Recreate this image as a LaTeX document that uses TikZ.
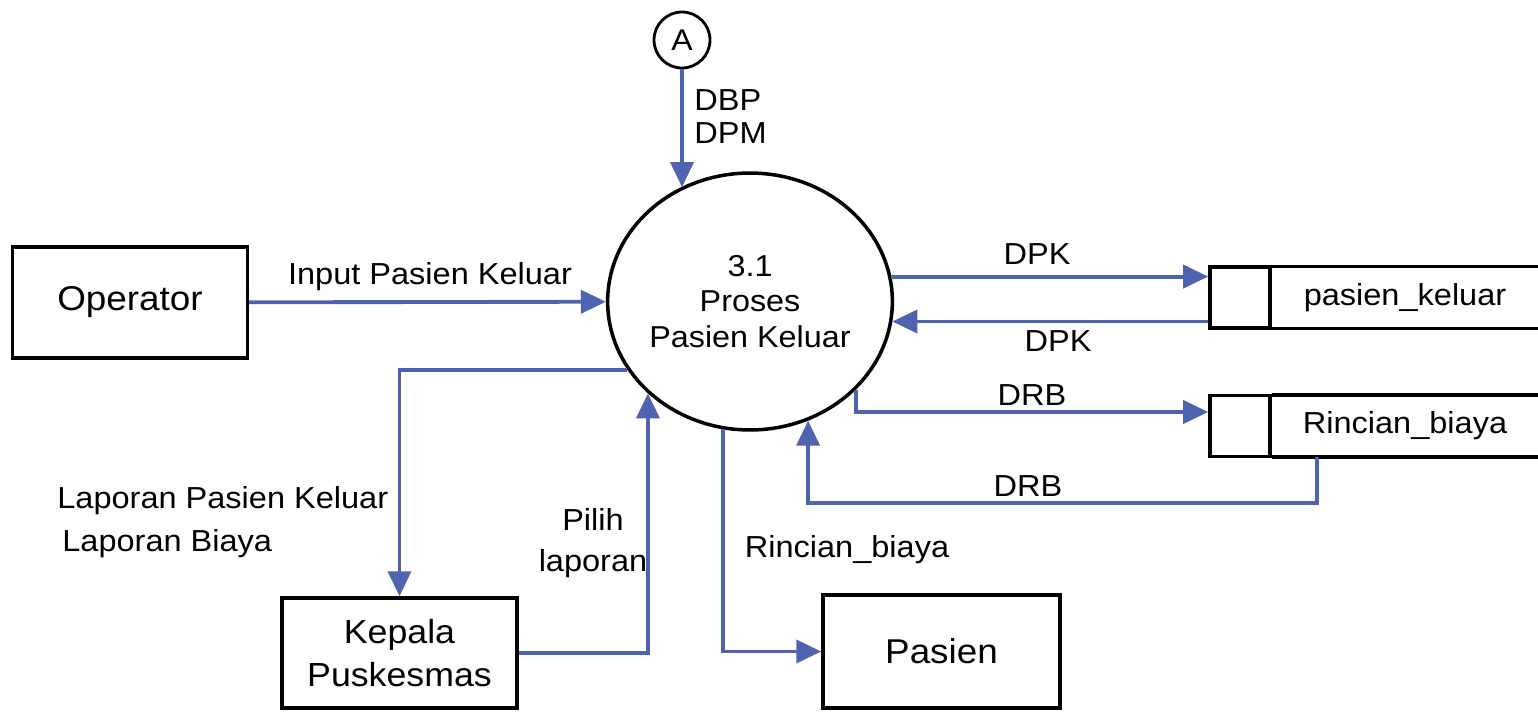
\documentclass[tikz,border=0pt]{standalone}
\usepackage{fontspec}
\setmainfont{Liberation Sans}[FakeStretch=1.07]
\usetikzlibrary{arrows.meta,positioning,shapes.geometric,calc}
\definecolor{flowblue}{RGB}{80,99,176}

\begin{document}
\begin{tikzpicture}[x=0.02cm,y=-0.02cm,
    ent/.style={draw,line width=2pt,align=center,inner sep=0pt,
      font=\fontsize{19.6}{22}\selectfont},
    proc/.style={ellipse,draw,line width=2pt,inner sep=0pt,minimum width=5.5cm,
      minimum height=5.14cm,align=center,font=\fontsize{17.2}{20.4}\selectfont},
    conn/.style={circle,draw,line width=1.6pt,minimum size=1.12cm,inner sep=0pt,
      font=\fontsize{17}{20}\selectfont},
    store/.style={minimum width=5.32cm,minimum height=1.22cm,inner sep=0pt,
      font=\fontsize{17.3}{20}\selectfont},
    storeid/.style={draw,line width=2pt,minimum width=1.2cm,minimum height=1.22cm,inner sep=0pt},
    storeln/.style={line width=2pt},
    lbl/.style={inner sep=0pt,font=\fontsize{17.3}{18.8}\selectfont},
    arr/.style={-{Triangle[length=0.5cm,width=0.46cm]},line width=2.2pt,flowblue}]
  \useasboundingbox (0,0) rectangle (1538,711);
  \node[conn] (cA) at (682,40) {A};
  \node[proc] (proc) at (750,301.5) {3.1\\Proses\\Pasien Keluar};
  \node[ent,minimum width=4.7cm,minimum height=2.22cm] (oper) at (130,302.5) {Operator};
  \node[ent,minimum width=4.7cm,minimum height=2.2cm,font=\fontsize{19}{24}\selectfont]
    (kep) at (399.5,653) {Kepala\\Puskesmas};
  \node[ent,minimum width=4.74cm,minimum height=2.26cm] (pas) at (941.5,651.5) {Pasien};
  \node[store] (pk) at (1405,297.5) {pasien\_keluar};
  \node[storeid,left=0pt of pk] (pkid) {};
  \node[store] (rb) at (1405,426) {Rincian\_biaya};
  \node[storeid,left=0pt of rb] (rbid) {};
  \foreach \s in {pk,rb}
    \draw[storeln] (\s.north west) -- ([xshift=0.4cm]\s.north east)
      (\s.south west) -- ([xshift=0.4cm]\s.south east);
  \draw[arr] (cA) -- (cA |- proc.121);
  \draw[arr] (oper) -- (proc);
  \draw[arr] (proc.10) -- (proc.10 -| pkid.west);
  \draw[arr] (proc.-8.5 -| pkid.west) -- (proc.-8.5);
  \draw[arr] (proc.-40) |- ([yshift=0.28cm]rbid.west);
  \draw[arr] ([xshift=0.9cm]rb.south west) -- ++(0,46) -| (proc.-64);
  \draw[arr] (proc.209.5) -| (kep.north);
  \draw[arr] (kep.east) -| (proc.222.6);
  \draw[arr] (proc.258.4) |- (pas.west);
  \node[lbl,anchor=west,align=left] (dbp) at (694,116.5) {DBP\\DPM};
  \node[lbl] (ipk) at (430,277) {Input Pasien Keluar};
  \node[lbl] (dpk1) at (1037,254) {DPK};
  \node[lbl] (dpk2) at (1058,341) {DPK};
  \node[lbl] (drb1) at (1032,395) {DRB};
  \node[lbl] (drb2) at (1028,486) {DRB};
  \node[lbl,anchor=west,align=left,font=\fontsize{17.3}{24.4}\selectfont]
    (lap) at (57,522) {Laporan Pasien Keluar\\\hspace*{0.1cm}Laporan Biaya};
  \node[lbl,align=center,font=\fontsize{17.3}{23.5}\selectfont] (pil) at (593,543) {Pilih\\laporan};
  \node[lbl] (rbl) at (847,550) {Rincian\_biaya};
\end{tikzpicture}
\end{document}
